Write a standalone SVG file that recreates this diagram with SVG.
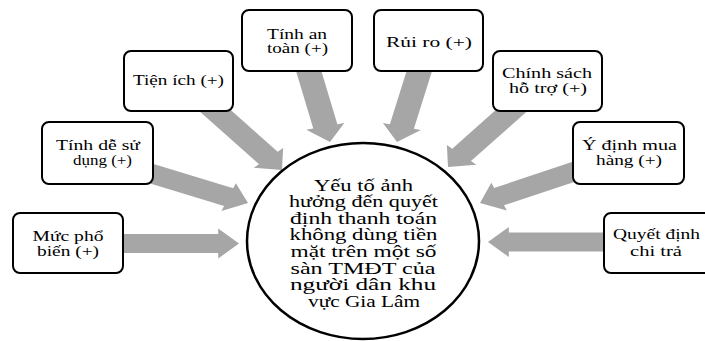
<svg xmlns="http://www.w3.org/2000/svg" width="705" height="341" viewBox="0 0 705 341">
<style>
.arrow{fill:#A6A6A6}
.box{fill:#fff;stroke:#000;stroke-width:2}
.hub{fill:#fff;stroke:#000;stroke-width:2.5}
.t{font-family:"Liberation Serif","Times New Roman","DejaVu Serif",serif;font-size:14px;text-anchor:middle;fill:#000}
.c{font-size:16px}
</style>
<rect width="705" height="341" fill="#fff"/>
<g id="connectors" transform="scale(1.3,1)">
<polygon class="arrow" transform="translate(183.85,243.5)" points="-95,-9.5 -16,-9.5 -16,-15 0,0 -16,15 -16,9.5 -95,9.5"/>
<polygon class="arrow" transform="translate(375.38,242) rotate(180)" points="-95,-9.5 -16,-9.5 -16,-15 0,0 -16,15 -16,9.5 -95,9.5"/>
<polygon class="arrow" transform="translate(216.92,170) rotate(49.08)" points="-88,-9.5 -16,-9.5 -16,-15 0,0 -16,15 -16,9.5 -88,9.5"/>
<polygon class="arrow" transform="translate(190.77,203) rotate(21.64)" points="-88,-9.5 -16,-9.5 -16,-15 0,0 -16,15 -16,9.5 -88,9.5"/>
<polygon class="arrow" transform="translate(253.85,142) rotate(77)" points="-82,-9.5 -16,-9.5 -16,-15 0,0 -16,15 -16,9.5 -82,9.5"/>
<polygon class="arrow" transform="translate(305.38,142) rotate(103.6)" points="-82,-9.5 -16,-9.5 -16,-15 0,0 -16,15 -16,9.5 -82,9.5"/>
<polygon class="arrow" transform="translate(344.62,167) rotate(130.87)" points="-84,-9.5 -16,-9.5 -16,-15 0,0 -16,15 -16,9.5 -84,9.5"/>
<polygon class="arrow" transform="translate(369.23,203) rotate(156.57)" points="-88,-9.5 -16,-9.5 -16,-15 0,0 -16,15 -16,9.5 -88,9.5"/>
</g>
<g id="hub">
<ellipse class="hub" cx="363" cy="241" rx="116" ry="98"/>
<text class="t c" x="363.5" y="190.5" textLength="99" lengthAdjust="spacingAndGlyphs">Yếu tố ảnh</text>
<text class="t c" x="363.5" y="207.1" textLength="149" lengthAdjust="spacingAndGlyphs">hưởng đến quyết</text>
<text class="t c" x="363.5" y="223.7" textLength="147" lengthAdjust="spacingAndGlyphs">định thanh toán</text>
<text class="t c" x="363.5" y="240.3" textLength="148" lengthAdjust="spacingAndGlyphs">không dùng tiền</text>
<text class="t c" x="363.5" y="256.9" textLength="146" lengthAdjust="spacingAndGlyphs">mặt trên một số</text>
<text class="t c" x="363" y="273.5" textLength="145" lengthAdjust="spacingAndGlyphs">sàn TMĐT của</text>
<text class="t c" x="363" y="290.1" textLength="146" lengthAdjust="spacingAndGlyphs">người dân khu</text>
<text class="t c" x="364" y="306.7" textLength="112" lengthAdjust="spacingAndGlyphs">vực Gia Lâm</text>
</g>
<g id="n-muc-pho-bien">
<rect class="box" x="13" y="213" width="110" height="60" rx="7"/>
<text class="t" x="68" y="241" textLength="71" lengthAdjust="spacingAndGlyphs">Mức phổ</text>
<text class="t" x="68" y="255.5" textLength="62" lengthAdjust="spacingAndGlyphs">biến (+)</text>
</g>
<g id="n-tinh-de-su-dung">
<rect class="box" x="42" y="122" width="111" height="62" rx="7"/>
<text class="t" x="98" y="150" textLength="84" lengthAdjust="spacingAndGlyphs">Tính dễ sử</text>
<text class="t" x="102.5" y="164.5" textLength="59" lengthAdjust="spacingAndGlyphs">dụng (+)</text>
</g>
<g id="n-tien-ich">
<rect class="box" x="124" y="51" width="109" height="60" rx="7"/>
<text class="t" x="178.5" y="85" textLength="91" lengthAdjust="spacingAndGlyphs">Tiện ích (+)</text>
</g>
<g id="n-tinh-an-toan">
<rect class="box" x="242" y="10" width="110" height="61" rx="7"/>
<text class="t" x="297" y="38.5" textLength="60" lengthAdjust="spacingAndGlyphs">Tính an</text>
<text class="t" x="297.5" y="53" textLength="61" lengthAdjust="spacingAndGlyphs">toàn (+)</text>
</g>
<g id="n-rui-ro">
<rect class="box" x="374" y="10" width="109" height="61" rx="7"/>
<text class="t" x="429" y="46.7" textLength="86" lengthAdjust="spacingAndGlyphs">Rủi ro (+)</text>
</g>
<g id="n-chinh-sach">
<rect class="box" x="493" y="51" width="109" height="60" rx="7"/>
<text class="t" x="547" y="77.5" textLength="90" lengthAdjust="spacingAndGlyphs">Chính sách</text>
<text class="t" x="548" y="92.7" textLength="78" lengthAdjust="spacingAndGlyphs">hỗ trợ (+)</text>
</g>
<g id="n-y-dinh">
<rect class="box" x="573" y="122" width="111" height="62" rx="7"/>
<text class="t" x="629.5" y="149.5" textLength="95" lengthAdjust="spacingAndGlyphs">Ý định mua</text>
<text class="t" x="629" y="164.5" textLength="66" lengthAdjust="spacingAndGlyphs">hàng (+)</text>
</g>
<g id="n-quyet-dinh">
<rect class="box" x="604" y="213" width="110" height="60" rx="7"/>
<text class="t" x="656.5" y="239.3" textLength="87" lengthAdjust="spacingAndGlyphs">Quyết định</text>
<text class="t" x="656" y="256" textLength="52" lengthAdjust="spacingAndGlyphs">chi trả</text>
</g>
</svg>
